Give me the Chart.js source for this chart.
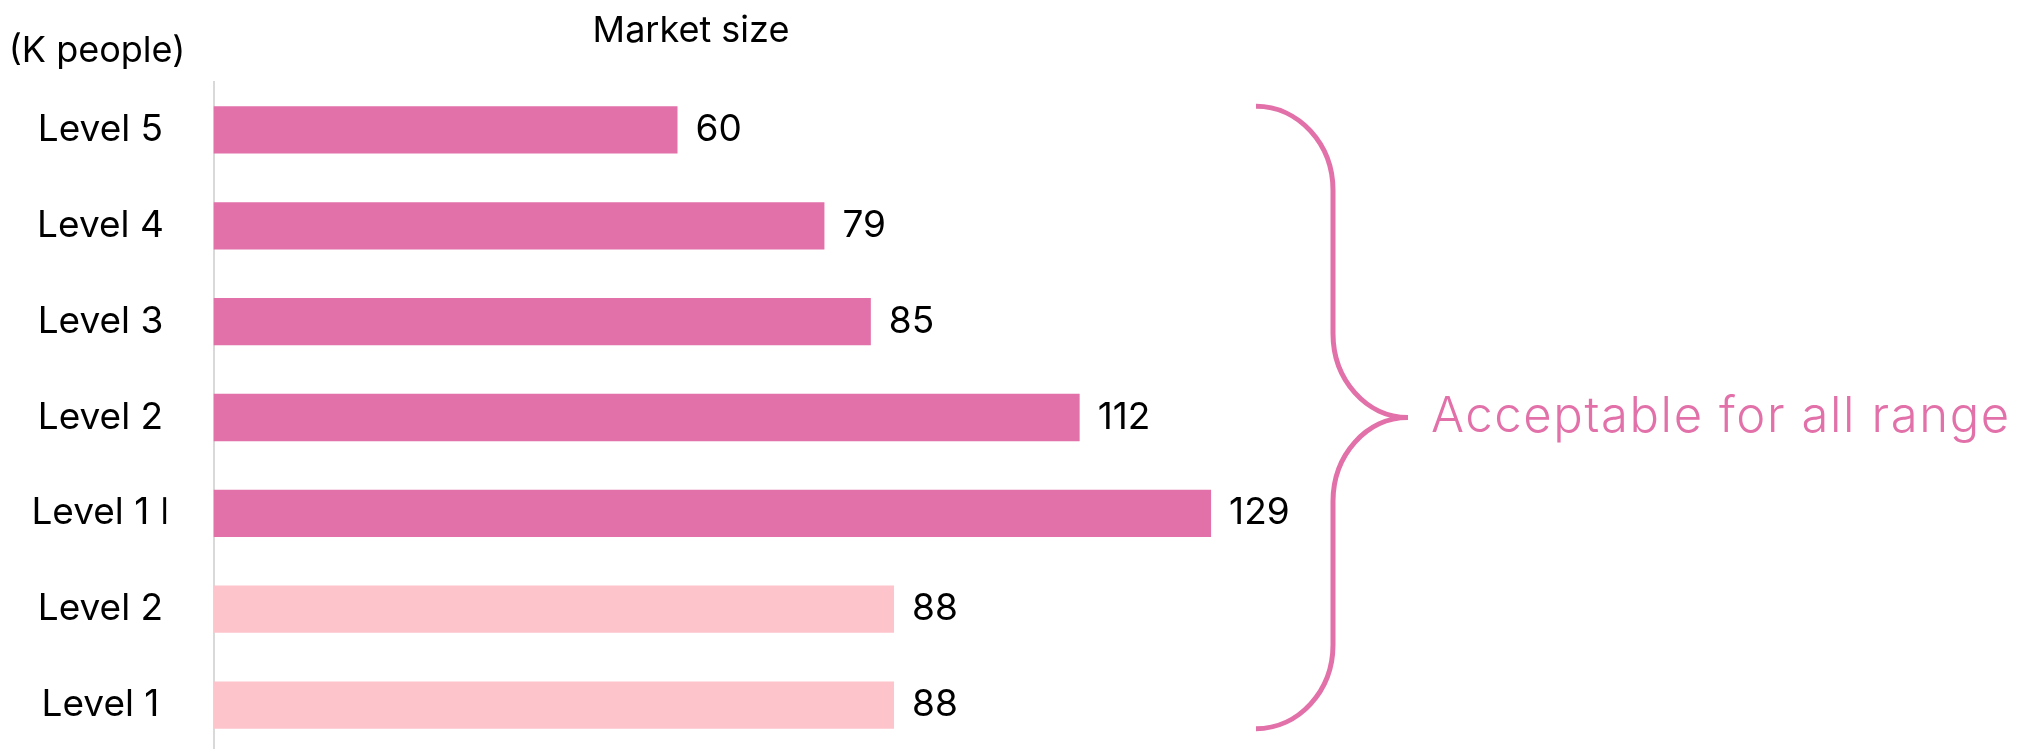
<!DOCTYPE html>
<html>
<head>
<meta charset="utf-8">
<script src="https://cdn.jsdelivr.net/npm/chart.js@4/dist/chart.umd.min.js"></script>
<style>
  html, body { margin: 0; padding: 0; background: #fff; overflow: hidden; }
  #wrap { position: relative; width: 2031px; height: 760px; }
</style>
</head>
<body>
<div id="wrap"><canvas id="marketChart"></canvas></div>
<script>
// chart data
var categories = ["Level 5", "Level 4", "Level 3", "Level 2", "Level 1 \u01C0", "Level 2", "Level 1"];
var marketSize = [60, 79, 85, 112, 129, 88, 88];
var barColors = ["#E270A9", "#E270A9", "#E270A9", "#E270A9", "#E270A9", "#FDC4CC", "#FDC4CC"];
var chartTitle = "Market size";
var unitLabel = "(K people)";
var braceNote = "Acceptable for all range";

var PINK = "#E271A9";

// value labels, headings and the curly brace
var annotatePlugin = {
    id: "annotate",
    afterDatasetsDraw: function(chart) {
        var ctx = chart.ctx;
        var meta = chart.getDatasetMeta(0);
        ctx.save();

        ctx.fillStyle = "#000";
        ctx.font = "37px Inter";
        ctx.textAlign = "left";
        ctx.textBaseline = "middle";
        meta.data.forEach(function(bar, i) {
            ctx.fillText(String(marketSize[i]), bar.x + 18, bar.y);
        });

        ctx.textAlign = "center";
        ctx.textBaseline = "alphabetic";
        ctx.font = "36px Inter";
        ctx.fillText(chartTitle, 691, 42);
        ctx.fillText(unitLabel, 97, 62);

        // brace from top of first bar to bottom of last bar
        var first = meta.data[0];
        var last = meta.data[meta.data.length - 1];
        var top = first.y - first.height / 2;
        var bottom = last.y + last.height / 2;
        var mid = (top + bottom) / 2;
        var ex = 1256, lx = 1333, tx = 1408, r = 84, k = 0.5523;

        ctx.beginPath();
        ctx.moveTo(ex, top);
        ctx.bezierCurveTo(ex + (lx - ex) * k, top, lx, top + r - r * k, lx, top + r);
        ctx.lineTo(lx, mid - r);
        ctx.bezierCurveTo(lx, mid - r + r * k, tx - (tx - lx) * k, mid, tx, mid);
        ctx.bezierCurveTo(tx - (tx - lx) * k, mid, lx, mid + r - r * k, lx, mid + r);
        ctx.lineTo(lx, bottom - r);
        ctx.bezierCurveTo(lx, bottom - r + r * k, ex + (lx - ex) * k, bottom, ex, bottom);
        ctx.lineWidth = 5;
        ctx.strokeStyle = PINK;
        ctx.stroke();

        ctx.fillStyle = PINK;
        ctx.font = "300 49px Inter";
        ctx.letterSpacing = "1.6px";
        ctx.textAlign = "left";
        ctx.fillText(braceNote, 1431, mid + 14);

        ctx.restore();
    }
};

function initialiseMarketChart()
{
    var ctx = document.getElementById("marketChart").getContext("2d");
    new Chart(ctx, {
        type: "bar",
        data: {
            labels: categories,
            datasets: [{
                label: chartTitle,
                data: marketSize,
                backgroundColor: barColors,
                borderWidth: 0,
                categoryPercentage: 1,
                barPercentage: 0.493
            }]
        },
        options: {
            indexAxis: "y",
            responsive: true,
            maintainAspectRatio: false,
            animation: false,
            layout: { padding: { top: 82, bottom: 7, left: 0, right: 657.5 } },
            plugins: {
                legend: { display: false },
                tooltip: { enabled: false },
                title: { display: false }
            },
            scales: {
                x: { display: false, min: 0, max: 150 },
                y: {
                    grid: { display: false, drawTicks: false },
                    border: { display: true, color: "#D9D9D9", width: 2 },
                    ticks: {
                        color: "#000",
                        font: { family: "Inter", size: 37 },
                        crossAlign: "center",
                        padding: 44
                    },
                    afterFit: function(scale) {
                        scale.width = 213.5;
                        // tick padding would otherwise shrink the plot vertically
                        scale.paddingTop = 0;
                        scale.paddingBottom = 0;
                    }
                }
            }
        },
        plugins: [annotatePlugin]
    });
}

initialiseMarketChart();
</script>
</body>
</html>
